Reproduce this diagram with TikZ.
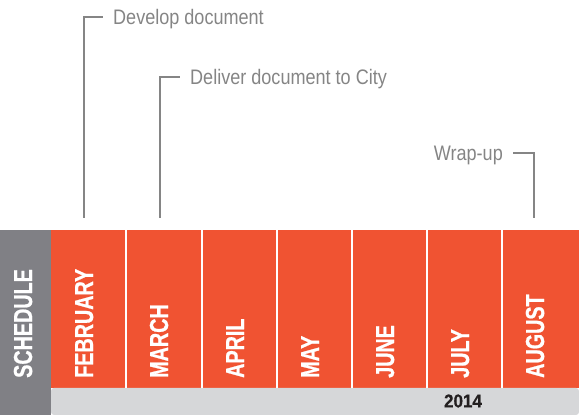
\documentclass[tikz,border=0pt]{standalone}
\usepackage{fontspec}
\setmainfont{Liberation Sans}[FakeStretch=0.86]
\newfontfamily\monthfont{Liberation Sans Bold}[FakeStretch=0.76,FakeBold=0.8]
\newfontfamily\yearfont{Liberation Sans Bold}[FakeStretch=0.92,FakeBold=0.5]
\usetikzlibrary{positioning}

\definecolor{planorange}{HTML}{F05332}
\definecolor{sidegray}{HTML}{808085}
\definecolor{bandgray}{HTML}{D6D7D9}
\definecolor{notegray}{HTML}{858585}
\definecolor{yeartext}{HTML}{231F20}

\tikzset{
  month/.style={rotate=90,anchor=base west,inner sep=0pt,text=white,
    font=\monthfont\fontsize{26}{26}\selectfont},
  note/.style={text=notegray,inner xsep=10pt,inner ysep=0pt,
    text height=15pt,text depth=0pt,font=\fontsize{21}{21}\selectfont},
  leader/.style={draw=notegray,line width=1.2pt},
  divider/.style={draw=white,line width=1.6pt}
}

\begin{document}
\begin{tikzpicture}[x=1pt,y=1pt]
    \useasboundingbox (0,0) rectangle (579,415);

    % bands
    \fill[sidegray] (0,0) rectangle (51,185);
    \fill[planorange] (51,27) rectangle (579,185);
    \fill[bandgray,rounded corners=3pt] (51,0) -- (51,27) -- (579,27) -- (579,0) -- cycle;

    % month dividers
    \path [divider] (126,27) -- (126,185);
    \path [divider] (202,27) -- (202,185);
    \path [divider] (277,27) -- (277,185);
    \path [divider] (352,27) -- (352,185);
    \path [divider] (427,27) -- (427,185);
    \path [divider] (502,27) -- (502,185);

    \node[month] (sched) at (32,37) {SCHEDULE};
    \node[month] (feb) at (93,37) {FEBRUARY};
    \node[month] (mar) at (168,37) {MARCH};
    \node[month] (apr) at (244,37) {APRIL};
    \node[month] (may) at (319,37) {MAY};
    \node[month] (jun) at (394,37) {JUNE};
    \node[month] (jul) at (469,37) {JULY};
    \node[month] (aug) at (544,37) {AUGUST};

    \node[text=yeartext,font=\yearfont\fontsize{18.5}{18.5}\selectfont] (year) at (463,14) {2014};

    % milestones
    \coordinate (devfoot) at (84,197);
    \coordinate (delfoot) at (160,197);
    \coordinate (wrapfoot) at (534,197);
    \node[note,anchor=west] (dev) at (103,398) {Develop document};
    \node[note,anchor=west] (del) at (180,338) {Deliver document to City};
    \node[note,anchor=east] (wrap) at (513,262) {Wrap-up};

    \path [leader] (devfoot) |- (dev.west);
    \path [leader] (delfoot) |- (del.west);
    \path [leader] (wrapfoot) |- (wrap.east);
\end{tikzpicture}
\end{document}
